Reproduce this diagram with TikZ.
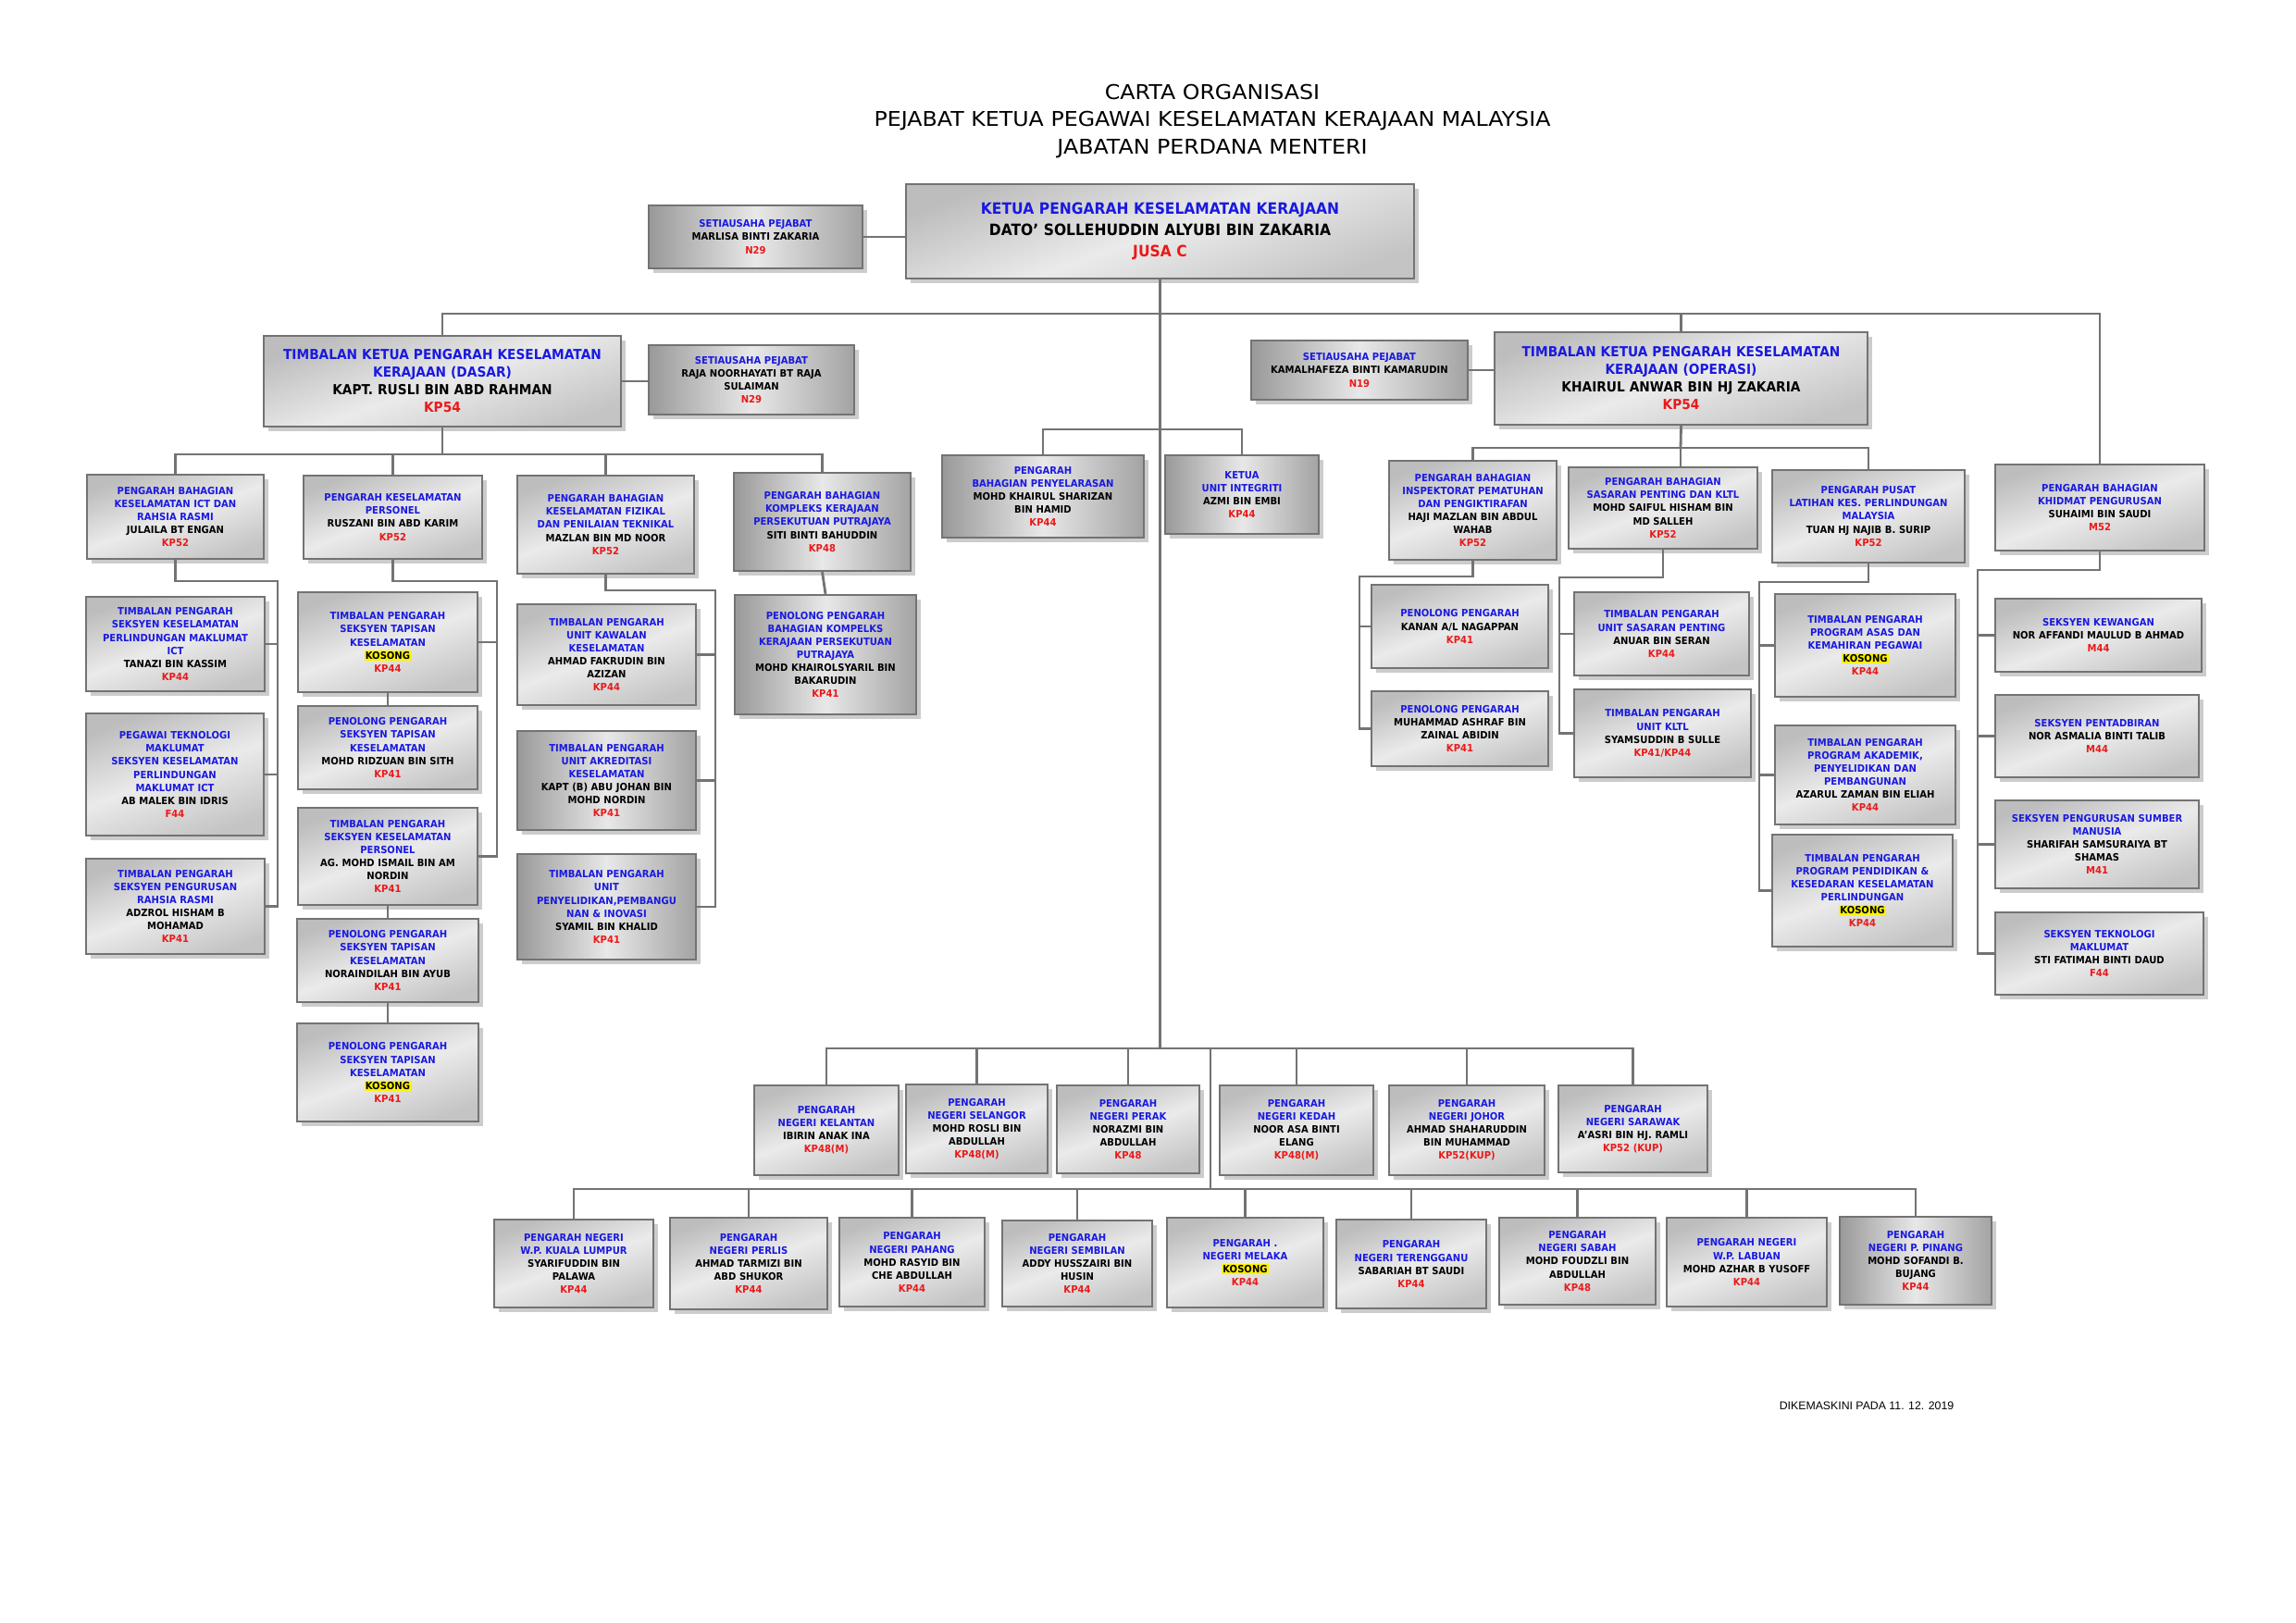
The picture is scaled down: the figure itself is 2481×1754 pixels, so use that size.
\documentclass[tikz,border=0pt]{standalone}
\usepackage{fontspec}
\setmainfont{DejaVu Sans}[FakeStretch=0.92]
\newfontfamily\judul{DejaVu Sans}[FakeStretch=1.08]
\newfontfamily\kaki{Liberation Sans}
\usetikzlibrary{shadows}
\definecolor{biru}{RGB}{25,25,225}
\definecolor{merah}{RGB}{235,25,25}
\definecolor{garis}{RGB}{115,115,115}
\setlength{\fboxsep}{0.8pt}
\newcommand{\jwt}[1]{{\color{biru}#1}}
\newcommand{\nama}[1]{{\color{black}#1}}
\newcommand{\gred}[1]{{\color{merah}#1}}
\newcommand{\ksg}{\colorbox{yellow}{\color{black}KOSONG}}
\newcommand{\kotak}[7][]{%
  \pgfmathsetmacro{\kw}{(#5-#3)*0.02}%
  \pgfmathsetmacro{\kh}{(#6-#4)*0.02}%
  \pgfmathsetmacro{\kt}{(#5-#3-10)*0.02}%
  \node[blok,#1,minimum width=\kw cm,minimum height=\kh cm,text width=\kt cm] (#2) at ({(#3+#5)/2},{(#4+#6)/2}) {#7};}
\tikzset{blok/.style = {draw=garis, line width=1.3pt, left color=gray!52, right color=gray!46, middle color=gray!16, shading angle=20,
                        align=center, inner sep=1pt, font=\bfseries\fontsize{6.2}{8}\selectfont,
                        drop shadow={opacity=1, fill=black!20, shadow xshift=1mm, shadow yshift=-1mm}},
         besar/.style = {font=\bfseries\fontsize{8.5}{10.8}\selectfont},
         utama/.style = {font=\bfseries\fontsize{9.6}{13}\selectfont},
         gelap/.style = {left color=gray!80, right color=gray!72, middle color=gray!18},
         penyambung/.style = {draw=garis, line width=1.6pt}}

\begin{document}
\begin{tikzpicture}[x=0.02cm,y=-0.02cm]
        \useasboundingbox (0,0) rectangle (2481,1754);

        \node[align=center, font=\judul\fontsize{12.5}{17}\selectfont] (tajuk) at (1310,131)
             {CARTA ORGANISASI\\PEJABAT KETUA PEGAWAI KESELAMATAN KERAJAAN MALAYSIA\\JABATAN PERDANA MENTERI};

        \kotak[gelap]{sa1}{701}{222}{932}{290}{\jwt{SETIAUSAHA PEJABAT}\\\nama{MARLISA BINTI ZAKARIA}\\\gred{N29}}
        \kotak[utama]{ketua}{979}{199}{1528}{301}{\jwt{KETUA PENGARAH KESELAMATAN KERAJAAN}\\\nama{DATO’ SOLLEHUDDIN ALYUBI BIN ZAKARIA}\\\gred{JUSA C}}

        \kotak[besar]{dasar}{285}{363}{671}{461}{\jwt{TIMBALAN KETUA PENGARAH KESELAMATAN\\KERAJAAN (DASAR)}\\\nama{KAPT. RUSLI BIN ABD RAHMAN}\\\gred{KP54}}
        \kotak[gelap]{sa2}{701}{373}{923}{448}{\jwt{SETIAUSAHA PEJABAT}\\\nama{RAJA NOORHAYATI BT RAJA\\SULAIMAN}\\\gred{N29}}
        \kotak[gelap]{sa3}{1352}{368}{1586}{432}{\jwt{SETIAUSAHA PEJABAT}\\\nama{KAMALHAFEZA BINTI KAMARUDIN}\\\gred{N19}}
        \kotak[besar]{operasi}{1615}{359}{2018}{459}{\jwt{TIMBALAN KETUA PENGARAH KESELAMATAN\\KERAJAAN (OPERASI)}\\\nama{KHAIRUL ANWAR BIN HJ ZAKARIA}\\\gred{KP54}}

        % bahagian dasar
        \kotak{d1}{94}{513}{285}{604}{\jwt{PENGARAH BAHAGIAN\\KESELAMATAN ICT DAN\\RAHSIA RASMI}\\\nama{JULAILA BT ENGAN}\\\gred{KP52}}
        \kotak{d2}{328}{514}{521}{604}{\jwt{PENGARAH KESELAMATAN\\PERSONEL}\\\nama{RUSZANI BIN ABD KARIM}\\\gred{KP52}}
        \kotak{d3}{559}{514}{750}{620}{\jwt{PENGARAH BAHAGIAN\\KESELAMATAN FIZIKAL\\DAN PENILAIAN TEKNIKAL}\\\nama{MAZLAN BIN MD NOOR}\\\gred{KP52}}
        \kotak[gelap]{d4}{793}{511}{984}{617}{\jwt{PENGARAH BAHAGIAN\\KOMPLEKS KERAJAAN\\PERSEKUTUAN PUTRAJAYA}\\\nama{SITI BINTI BAHUDDIN}\\\gred{KP48}}
        \kotak{d1a}{93}{645}{286}{747}{\jwt{TIMBALAN PENGARAH\\SEKSYEN KESELAMATAN\\PERLINDUNGAN MAKLUMAT\\ICT}\\\nama{TANAZI BIN KASSIM}\\\gred{KP44}}
        \kotak{d1b}{93}{771}{285}{903}{\jwt{PEGAWAI TEKNOLOGI\\MAKLUMAT\\SEKSYEN KESELAMATAN\\PERLINDUNGAN\\MAKLUMAT ICT}\\\nama{AB MALEK BIN IDRIS}\\\gred{F44}}
        \kotak{d1c}{93}{928}{286}{1031}{\jwt{TIMBALAN PENGARAH\\SEKSYEN PENGURUSAN\\RAHSIA RASMI}\\\nama{ADZROL HISHAM B\\MOHAMAD}\\\gred{KP41}}
        \kotak{d2a}{322}{640}{516}{748}{\jwt{TIMBALAN PENGARAH\\SEKSYEN TAPISAN\\KESELAMATAN}\\\ksg\\\gred{KP44}}
        \kotak{d2b}{322}{763}{516}{853}{\jwt{PENOLONG PENGARAH\\SEKSYEN TAPISAN\\KESELAMATAN}\\\nama{MOHD RIDZUAN BIN SITH}\\\gred{KP41}}
        \kotak{d2c}{322}{873}{516}{978}{\jwt{TIMBALAN PENGARAH\\SEKSYEN KESELAMATAN\\PERSONEL}\\\nama{AG. MOHD ISMAIL BIN AM\\NORDIN}\\\gred{KP41}}
        \kotak{d2d}{321}{993}{517}{1083}{\jwt{PENOLONG PENGARAH\\SEKSYEN TAPISAN\\KESELAMATAN}\\\nama{NORAINDILAH BIN AYUB}\\\gred{KP41}}
        \kotak{d2e}{321}{1106}{517}{1212}{\jwt{PENOLONG PENGARAH\\SEKSYEN TAPISAN\\KESELAMATAN}\\\ksg\\\gred{KP41}}
        \kotak{d3a}{559}{653}{752}{762}{\jwt{TIMBALAN PENGARAH\\UNIT KAWALAN\\KESELAMATAN}\\\nama{AHMAD FAKRUDIN BIN\\AZIZAN}\\\gred{KP44}}
        \kotak[gelap]{d3b}{559}{790}{752}{897}{\jwt{TIMBALAN PENGARAH\\UNIT AKREDITASI\\KESELAMATAN}\\\nama{KAPT (B) ABU JOHAN BIN\\MOHD NORDIN}\\\gred{KP41}}
        \kotak[gelap]{d3c}{559}{923}{752}{1037}{\jwt{TIMBALAN PENGARAH\\UNIT\\PENYELIDIKAN,PEMBANGU\\NAN \& INOVASI}\\\nama{SYAMIL BIN KHALID}\\\gred{KP41}}
        \kotak[gelap]{d4a}{794}{643}{990}{772}{\jwt{PENOLONG  PENGARAH\\BAHAGIAN KOMPELKS\\KERAJAAN PERSEKUTUAN\\PUTRAJAYA}\\\nama{MOHD KHAIROLSYARIL BIN\\BAKARUDIN}\\\gred{KP41}}

        % bawah ketua pengarah
        \kotak[gelap]{m1}{1018}{492}{1236}{581}{\jwt{PENGARAH\\BAHAGIAN PENYELARASAN}\\\nama{MOHD KHAIRUL SHARIZAN\\BIN HAMID}\\\gred{KP44}}
        \kotak[gelap]{m2}{1259}{492}{1425}{577}{\jwt{KETUA\\UNIT INTEGRITI}\\\nama{AZMI BIN EMBI}\\\gred{KP44}}

        % bahagian operasi
        \kotak{o1}{1501}{498}{1682}{605}{\jwt{PENGARAH BAHAGIAN\\INSPEKTORAT PEMATUHAN\\DAN PENGIKTIRAFAN}\\\nama{HAJI MAZLAN BIN ABDUL\\WAHAB}\\\gred{KP52}}
        \kotak{o2}{1695}{505}{1899}{593}{\jwt{PENGARAH BAHAGIAN\\SASARAN PENTING DAN KLTL}\\\nama{MOHD SAIFUL HISHAM BIN\\MD SALLEH}\\\gred{KP52}}
        \kotak{o3}{1915}{508}{2123}{608}{\jwt{PENGARAH PUSAT\\LATIHAN KES. PERLINDUNGAN\\MALAYSIA}\\\nama{TUAN HJ NAJIB B. SURIP}\\\gred{KP52}}
        \kotak{o4}{2156}{502}{2382}{595}{\jwt{PENGARAH BAHAGIAN\\KHIDMAT PENGURUSAN}\\\nama{SUHAIMI BIN SAUDI}\\\gred{M52}}
        \kotak{o1a}{1482}{632}{1673}{722}{\jwt{PENOLONG PENGARAH}\\\nama{KANAN A/L NAGAPPAN}\\\gred{KP41}}
        \kotak{o1b}{1482}{747}{1673}{828}{\jwt{PENOLONG PENGARAH}\\\nama{MUHAMMAD ASHRAF BIN\\ZAINAL ABIDIN}\\\gred{KP41}}
        \kotak{o2a}{1701}{640}{1890}{730}{\jwt{TIMBALAN PENGARAH\\UNIT SASARAN PENTING}\\\nama{ANUAR BIN SERAN}\\\gred{KP44}}
        \kotak{o2b}{1701}{745}{1892}{840}{\jwt{TIMBALAN PENGARAH\\UNIT KLTL}\\\nama{SYAMSUDDIN B SULLE}\\\gred{KP41/KP44}}
        \kotak{o3a}{1918}{642}{2113}{753}{\jwt{TIMBALAN PENGARAH\\PROGRAM ASAS DAN\\KEMAHIRAN PEGAWAI}\\\ksg\\\gred{KP44}}
        \kotak{o3b}{1918}{784}{2113}{891}{\jwt{TIMBALAN PENGARAH\\PROGRAM AKADEMIK,\\PENYELIDIKAN DAN\\PEMBANGUNAN}\\\nama{AZARUL ZAMAN BIN ELIAH}\\\gred{KP44}}
        \kotak{o3c}{1915}{902}{2110}{1023}{\jwt{TIMBALAN PENGARAH\\PROGRAM PENDIDIKAN \&\\KESEDARAN KESELAMATAN\\PERLINDUNGAN}\\\ksg\\\gred{KP44}}
        \kotak{o4a}{2156}{647}{2379}{726}{\jwt{SEKSYEN  KEWANGAN}\\\nama{NOR AFFANDI MAULUD B AHMAD}\\\gred{M44}}
        \kotak{o4b}{2156}{751}{2376}{840}{\jwt{SEKSYEN  PENTADBIRAN}\\\nama{NOR ASMALIA BINTI TALIB}\\\gred{M44}}
        \kotak{o4c}{2156}{865}{2376}{960}{\jwt{SEKSYEN PENGURUSAN SUMBER\\MANUSIA}\\\nama{SHARIFAH SAMSURAIYA BT\\SHAMAS}\\\gred{M41}}
        \kotak{o4d}{2156}{986}{2381}{1075}{\jwt{SEKSYEN TEKNOLOGI\\MAKLUMAT}\\\nama{STI FATIMAH BINTI DAUD}\\\gred{F44}}

        % pengarah negeri
        \kotak{n1}{815}{1173}{971}{1270}{\jwt{PENGARAH\\NEGERI KELANTAN}\\\nama{IBIRIN ANAK INA}\\\gred{KP48(M)}}
        \kotak{n2}{979}{1172}{1132}{1268}{\jwt{PENGARAH\\NEGERI SELANGOR}\\\nama{MOHD ROSLI BIN\\ABDULLAH}\\\gred{KP48(M)}}
        \kotak{n3}{1142}{1173}{1296}{1268}{\jwt{PENGARAH\\NEGERI PERAK}\\\nama{NORAZMI BIN\\ABDULLAH}\\\gred{KP48}}
        \kotak{n4}{1318}{1173}{1484}{1270}{\jwt{PENGARAH\\NEGERI KEDAH}\\\nama{NOOR ASA BINTI\\ELANG}\\\gred{KP48(M)}}
        \kotak{n5}{1501}{1173}{1669}{1270}{\jwt{PENGARAH\\NEGERI JOHOR}\\\nama{AHMAD SHAHARUDDIN\\BIN MUHAMMAD}\\\gred{KP52(KUP)}}
        \kotak{n6}{1684}{1173}{1845}{1267}{\jwt{PENGARAH\\NEGERI SARAWAK}\\\nama{A’ASRI BIN HJ. RAMLI}\\\gred{KP52 (KUP)}}
        \kotak{r1}{534}{1318}{706}{1413}{\jwt{PENGARAH  NEGERI\\W.P. KUALA LUMPUR}\\\nama{SYARIFUDDIN BIN\\PALAWA}\\\gred{KP44}}
        \kotak{r2}{724}{1316}{894}{1415}{\jwt{PENGARAH\\NEGERI PERLIS}\\\nama{AHMAD TARMIZI BIN\\ABD SHUKOR}\\\gred{KP44}}
        \kotak{r3}{907}{1316}{1064}{1412}{\jwt{PENGARAH\\NEGERI PAHANG}\\\nama{MOHD RASYID BIN\\CHE ABDULLAH}\\\gred{KP44}}
        \kotak{r4}{1083}{1319}{1245}{1412}{\jwt{PENGARAH\\NEGERI SEMBILAN}\\\nama{ADDY HUSSZAIRI BIN\\HUSIN}\\\gred{KP44}}
        \kotak{r5}{1261}{1316}{1430}{1413}{\jwt{PENGARAH .\\NEGERI MELAKA}\\\ksg\\\gred{KP44}}
        \kotak{r6}{1444}{1318}{1606}{1414}{\jwt{PENGARAH\\NEGERI TERENGGANU}\\\nama{SABARIAH BT SAUDI}\\\gred{KP44}}
        \kotak{r7}{1620}{1316}{1789}{1410}{\jwt{PENGARAH\\NEGERI SABAH}\\\nama{MOHD FOUDZLI BIN\\ABDULLAH}\\\gred{KP48}}
        \kotak{r8}{1801}{1316}{1974}{1412}{\jwt{PENGARAH NEGERI\\W.P. LABUAN}\\\nama{MOHD AZHAR B YUSOFF}\\\gred{KP44}}
        \kotak[gelap]{r9}{1988}{1315}{2152}{1410}{\jwt{PENGARAH\\NEGERI P. PINANG}\\\nama{MOHD SOFANDI B.\\BUJANG}\\\gred{KP44}}

        \node[font=\kaki\fontsize{7}{8}\selectfont] (tarikh) at (2017,1519) {DIKEMASKINI PADA 11. 12. 2019};

        \coordinate (busU) at (1249,339);
        \coordinate (busM) at (1249,464);
        \coordinate (busN) at (1249,1133);
        \coordinate (busR) at (1308,1285);
        \coordinate (busD) at (478,491);
        \coordinate (busO) at (1816,484);
        \coordinate (relD1) at (300,628);
        \coordinate (relD2) at (537,628);
        \coordinate (relD3) at (773,638);
        \coordinate (relO1) at (1469,623);
        \coordinate (relO2) at (1685,624);
        \coordinate (relO3) at (1901,629);
        \coordinate (relO4) at (2137,616);

        \draw[penyambung] (sa1.east) -- (sa1.east -| ketua.west);
        \draw[penyambung] (ketua.south) -- (ketua.south |- busN);
        \draw[penyambung] (dasar.north) |- (busU) -| (o4.north);
        \draw[penyambung] (operasi.north) -- (operasi.north |- busU);
        \draw[penyambung] (dasar.east) -- (dasar.east -| sa2.west);
        \draw[penyambung] (sa3.east) -- (sa3.east -| operasi.west);
        \draw[penyambung] (m1.north) |- (busM) -| (m2.north);

        \draw[penyambung] (dasar.south) -- (dasar.south |- busD);
        \draw[penyambung] (d1.north) |- (busD) -| (d4.north);
        \foreach \k in {d2,d3}
            \draw[penyambung] (\k.north) -- (\k.north |- busD);
        \draw[penyambung] (d1.south) |- (relD1) |- (d1c.east);
        \foreach \k in {d1a,d1b}
            \draw[penyambung] (\k.east) -- (\k.east -| relD1);
        \draw[penyambung] (d2.south) |- (relD2) |- (d2c.east);
        \draw[penyambung] (d2a.east) -- (d2a.east -| relD2);
        \draw[penyambung] (d3.south) |- (relD3) |- (d3c.east);
        \foreach \k in {d3a,d3b}
            \draw[penyambung] (\k.east) -- (\k.east -| relD3);
        \draw[penyambung] (d4.south) -- (d4a.north);
        \draw[penyambung] (d2a.south) -- (d2b.north);
        \draw[penyambung] (d2c.south) -- (d2d.north);
        \draw[penyambung] (d2d.south) -- (d2e.north);

        \draw[penyambung] (operasi.south) -- (busO);
        \draw[penyambung] (o1.north) |- (busO) -| (o3.north);
        \draw[penyambung] (busO) -- (busO |- o2.north);
        \draw[penyambung] (o1.south) |- (relO1) |- (o1b.west);
        \draw[penyambung] (o1a.west) -- (o1a.west -| relO1);
        \draw[penyambung] (o2.south) |- (relO2) |- (o2b.west);
        \draw[penyambung] (o2a.west) -- (o2a.west -| relO2);
        \draw[penyambung] (o3.south) |- (relO3) |- (o3c.west);
        \foreach \k in {o3a,o3b}
            \draw[penyambung] (\k.west) -- (\k.west -| relO3);
        \draw[penyambung] (o4.south) |- (relO4) |- (o4d.west);
        \foreach \k in {o4a,o4b,o4c}
            \draw[penyambung] (\k.west) -- (\k.west -| relO4);

        \draw[penyambung] (n1.north) |- (busN) -| (n6.north);
        \foreach \k in {n2,n3,n4,n5}
            \draw[penyambung] (\k.north) -- (\k.north |- busN);
        \draw[penyambung] (busR |- busN) -- (busR);
        \draw[penyambung] (r1.north) |- (busR) -| (r9.north);
        \foreach \k in {r2,r3,r4,r5,r6,r7,r8}
            \draw[penyambung] (\k.north) -- (\k.north |- busR);
\end{tikzpicture}
\end{document}
